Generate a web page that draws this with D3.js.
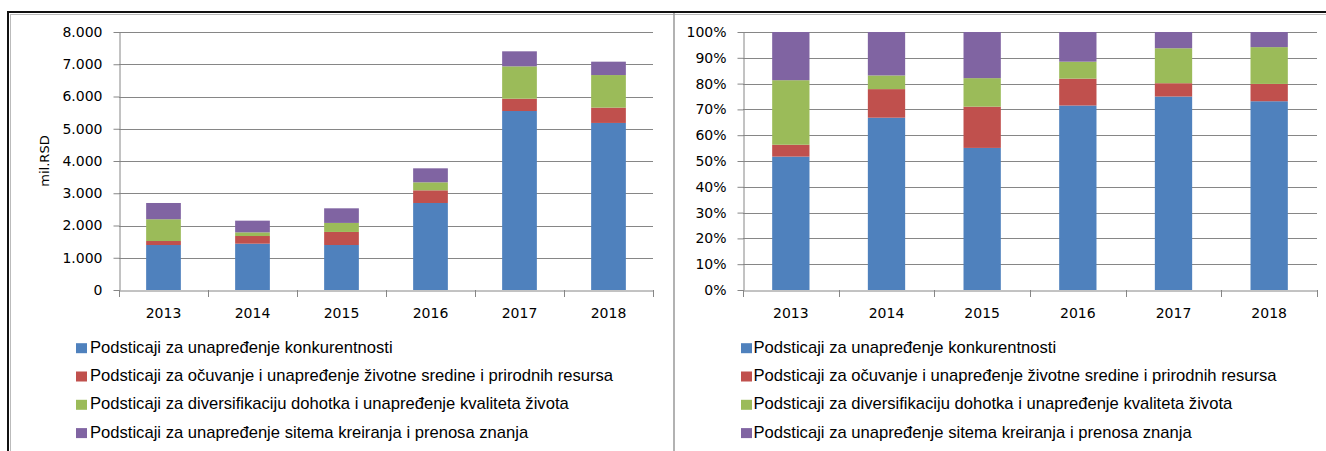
<!DOCTYPE html>
<html>
<head>
<meta charset="utf-8">
<script src="https://cdn.jsdelivr.net/npm/d3@7"></script>
<style>
  html, body { margin: 0; padding: 0; background: #fff; }
  svg { display: block; }
</style>
</head>
<body>
<svg id="chart" width="1326" height="451"></svg>
<script>
// ---- Data (mil. RSD) ----
const years = ["2013", "2014", "2015", "2016", "2017", "2018"];
const konkurentnost   = [1395, 1436, 1395, 2698, 5550, 5180];
const zivotnaSredina  = [124, 238, 405, 393, 382, 475];
const diversifikacija = [675, 114, 280, 248, 1003, 1010];
const znanje          = [504, 362, 453, 434, 466, 415];

const seriesNames = [
  "Podsticaji za unapređenje konkurentnosti",
  "Podsticaji za očuvanje i unapređenje životne sredine i prirodnih resursa",
  "Podsticaji za diversifikaciju dohotka i unapređenje kvaliteta života",
  "Podsticaji za unapređenje sitema kreiranja i prenosa znanja"
];
const seriesColors = ["#4F81BD", "#C0504D", "#9BBB59", "#8064A2"];
const leftTicks = [0, 1000, 2000, 3000, 4000, 5000, 6000, 7000, 8000];
const rightTicks = [0, 0.1, 0.2, 0.3, 0.4, 0.5, 0.6, 0.7, 0.8, 0.9, 1.0];
const yTitle = "mil.RSD";

// ---- Build stacked table ----
const keys = ["k", "z", "d", "n"];
const rows = years.map((y, i) => ({
  year: y, k: konkurentnost[i], z: zivotnaSredina[i], d: diversifikacija[i], n: znanje[i]
}));
const stackAbs = d3.stack().keys(keys)(rows);
const stackPct = d3.stack().keys(keys).offset(d3.stackOffsetExpand)(rows);

const svg = d3.select("#chart");
const gridColor = "#868686";
const tickFont = "DejaVu Sans, Verdana, sans-serif";

const locale = d3.formatLocale({ decimal: ",", thousands: ".", grouping: [3], currency: ["", ""] });
const fmtThousands = locale.format(",d");

// ---- Frame ----
svg.append("rect").attr("x", 0).attr("y", 0).attr("width", 1326).attr("height", 451).attr("fill", "#fff");
svg.append("line").attr("x1", 8).attr("x2", 1326).attr("y1", 12).attr("y2", 12)
  .attr("stroke", "#111").attr("stroke-width", 2);
svg.append("line").attr("x1", 10).attr("x2", 1326).attr("y1", 14.5).attr("y2", 14.5)
  .attr("stroke", "#bbb").attr("stroke-width", 1);
svg.append("line").attr("x1", 8).attr("x2", 8).attr("y1", 11).attr("y2", 451)
  .attr("stroke", "#111").attr("stroke-width", 2);
svg.append("line").attr("x1", 10.5).attr("x2", 10.5).attr("y1", 14).attr("y2", 451)
  .attr("stroke", "#bbb").attr("stroke-width", 1);
svg.append("line").attr("x1", 674).attr("x2", 674).attr("y1", 13).attr("y2", 451)
  .attr("stroke", "#999").attr("stroke-width", 1.5);

function drawPanel(opts) {
  const { x0, x1, yTop, yBottom, domainMax, ticks, fmt, stack } = opts;
  const x = d3.scaleBand().domain(years).range([x0, x1]).paddingInner(0.61).paddingOuter(0.305);
  const y = d3.scaleLinear().domain([0, domainMax]).range([yBottom, yTop]);
  const g = svg.append("g");

  // gridlines
  g.append("g").selectAll("line").data(ticks.slice(1)).join("line")
    .attr("x1", x0).attr("x2", x1)
    .attr("y1", d => Math.round(y(d)) + 0.5).attr("y2", d => Math.round(y(d)) + 0.5)
    .attr("stroke", gridColor).attr("stroke-width", 1);

  // bars
  g.append("g").selectAll("g").data(stack).join("g")
    .attr("fill", (d, i) => seriesColors[i])
    .selectAll("rect").data(d => d).join("rect")
    .attr("x", d => x(d.data.year))
    .attr("width", x.bandwidth())
    .attr("y", d => y(d[1]))
    .attr("height", d => y(d[0]) - y(d[1]));

  // y axis
  const yAxis = g.append("g").attr("transform", `translate(${x0 + 0.5},0)`)
    .call(d3.axisLeft(y).tickValues(ticks).tickFormat(fmt).tickSize(6).tickSizeOuter(0).tickPadding(11));
  yAxis.select(".domain").attr("stroke", gridColor);
  yAxis.selectAll(".tick line").attr("stroke", gridColor);
  yAxis.selectAll("text").attr("font-family", tickFont).attr("font-size", "14px").attr("fill", "#000");

  // x axis labels
  const xAxis = g.append("g").attr("transform", `translate(0,${yBottom + 0.5})`)
    .call(d3.axisBottom(x).tickSize(0).tickPadding(18));
  xAxis.select(".domain").attr("stroke", gridColor);
  xAxis.selectAll("text").attr("font-family", tickFont).attr("font-size", "14px").attr("fill", "#000");

  // boundary ticks (between categories)
  const bounds = d3.range(years.length + 1).map(i => x0 + i * (x1 - x0) / years.length);
  g.append("g").selectAll("line").data(bounds).join("line")
    .attr("x1", d => Math.round(d) + 0.5).attr("x2", d => Math.round(d) + 0.5)
    .attr("y1", yBottom).attr("y2", yBottom + 7)
    .attr("stroke", gridColor).attr("stroke-width", 1);
  return { x, y };
}

drawPanel({ x0: 119, x1: 653, yTop: 32, yBottom: 290, domainMax: 8000, ticks: leftTicks, fmt: fmtThousands, stack: stackAbs });
drawPanel({ x0: 743, x1: 1317, yTop: 32, yBottom: 290, domainMax: 1, ticks: rightTicks, fmt: d3.format(".0%"), stack: stackPct });

// y title
svg.append("text")
  .attr("transform", "translate(49,161) rotate(-90)")
  .attr("text-anchor", "middle")
  .attr("font-family", tickFont).attr("font-size", "13px").attr("fill", "#000")
  .text(yTitle);

// legends
function drawLegend(sx, tx) {
  const baselines = [352.7, 381, 409.3, 437.6];
  const lg = svg.append("g");
  const items = lg.selectAll("g").data(seriesNames).join("g");
  items.append("rect")
    .attr("x", sx).attr("y", (d, i) => baselines[i] - 9.5)
    .attr("width", 11).attr("height", 10)
    .attr("fill", (d, i) => seriesColors[i]);
  items.append("text")
    .attr("x", tx).attr("y", (d, i) => baselines[i])
    .attr("font-family", "Liberation Sans, Arial, sans-serif")
    .attr("font-size", "16.6px").attr("fill", "#000")
    .text(d => d);
}
drawLegend(76, 90);
drawLegend(741, 753.5);
</script>
</body>
</html>
